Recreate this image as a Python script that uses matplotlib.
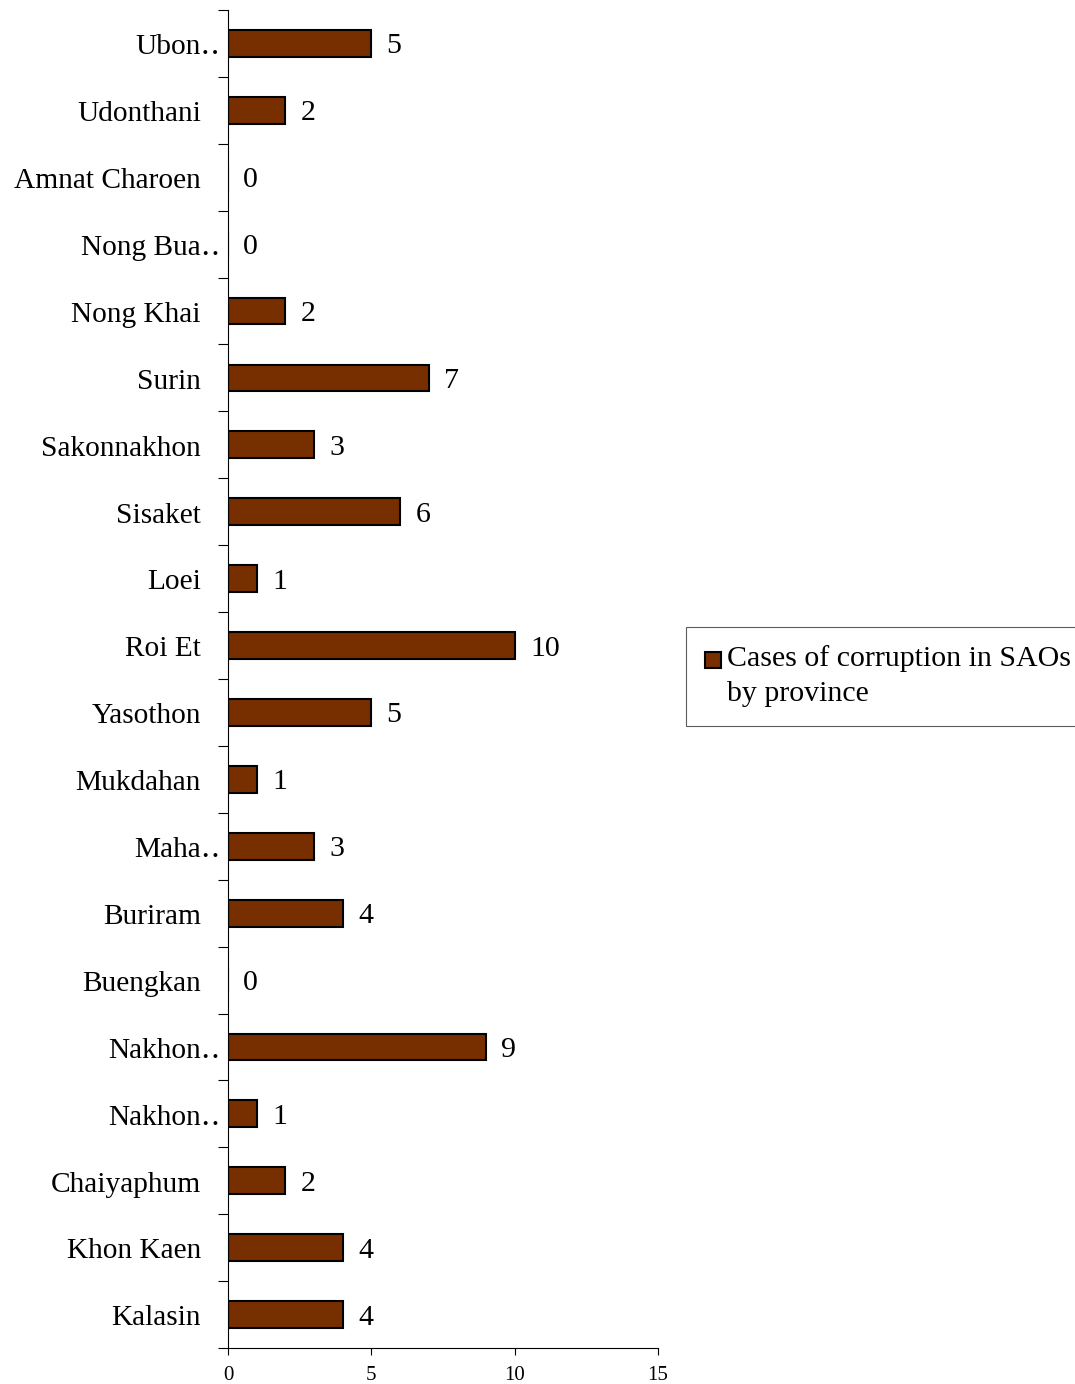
import numpy as np
import matplotlib
matplotlib.use('Agg')
import matplotlib.pyplot as plt
from matplotlib.patches import Rectangle
from matplotlib.legend_handler import HandlerPatch
from matplotlib.transforms import offset_copy

plt.rcParams['font.family'] = ['Liberation Serif', 'DejaVu Serif']

# provinces listed top to bottom as drawn
provinces = ['Ubon\u2025', 'Udonthani', 'Amnat Charoen', 'Nong Bua\u2025', 'Nong Khai',
             'Surin', 'Sakonnakhon', 'Sisaket', 'Loei', 'Roi Et', 'Yasothon',
             'Mukdahan', 'Maha\u2025', 'Buriram', 'Buengkan', 'Nakhon\u2025', 'Nakhon\u2025',
             'Chaiyaphum', 'Khon Kaen', 'Kalasin']
cases = [5, 2, 0, 0, 2, 7, 3, 6, 1, 10, 5, 1, 3, 4, 0, 9, 1, 2, 4, 4]
series_name = 'Cases of corruption in SAOs\nby province'
x_ticks = [0, 5, 10, 15]

FS = 21.5


class TopSquare(HandlerPatch):
    """Square legend key sitting beside the first line of a wrapped label."""
    def create_artists(self, legend, orig_handle, xdescent, ydescent,
                       width, height, fontsize, trans):
        side = width
        face = orig_handle.patches[0].get_facecolor()
        p = Rectangle((-xdescent, -ydescent + height - side + 0.5 * fontsize),
                      side, side, facecolor=face,
                      edgecolor='black', linewidth=1.5, transform=trans)
        return [p]


# bottom-up order for barh
names = provinces[::-1]
vals = cases[::-1]
pos = np.arange(len(names))

fig = plt.figure(figsize=(10.75, 13.84), dpi=100)
ax = fig.add_axes([228 / 1075, 1 - 1348 / 1384, 430 / 1075, 1338 / 1384])

bars = ax.barh(pos, vals, height=0.4, color='#772F00', edgecolor='black',
               linewidth=1.5, label=series_name)

for y, v in zip(pos, vals):
    ax.annotate(str(v), (v, y), xytext=(11, 0), textcoords='offset points',
                ha='left', va='center_baseline', fontsize=FS)

ax.set_xlim(0, 15)
ax.set_ylim(-0.5, len(names) - 0.5)
ax.set_xticks(x_ticks)
ax.tick_params(axis='x', labelsize=15, length=5, width=0.8, pad=8)

# boundary ticks on major, category names on minor
ax.set_yticks(np.arange(-0.5, len(names), 1.0))
ax.set_yticklabels([])
ax.set_yticks(pos, minor=True)
ax.set_yticklabels(names, minor=True)
ax.tick_params(axis='y', which='major', length=7, width=0.8)
ax.tick_params(axis='y', which='minor', length=0, labelsize=21.2, pad=19.5)

# truncated names hang their leader dots past the label edge
for lab in ax.get_yticklabels(minor=True):
    dx = 14 if lab.get_text().endswith('\u2025') else 0
    lab.set_transform(offset_copy(lab.get_transform(), fig=fig, x=dx, y=-0.6,
                                  units='points'))

for s in ['top', 'right']:
    ax.spines[s].set_visible(False)
for s in ['left', 'bottom']:
    ax.spines[s].set_linewidth(0.8)

leg = fig.legend(handles=[bars], labels=[series_name], loc='upper left',
                 bbox_to_anchor=(686 / 1075, 1 - 627 / 1384),
                 bbox_transform=fig.transFigure, borderaxespad=0,
                 fontsize=FS, fancybox=False, frameon=True,
                 handlelength=0.55, handleheight=0.55, handletextpad=0.2,
                 borderpad=0.62, handler_map={bars: TopSquare()})
leg.get_texts()[0].set_linespacing(1.45)
leg.get_frame().set_edgecolor('#333333')
leg.get_frame().set_linewidth(0.8)

fig.savefig('out.png', dpi=100)
